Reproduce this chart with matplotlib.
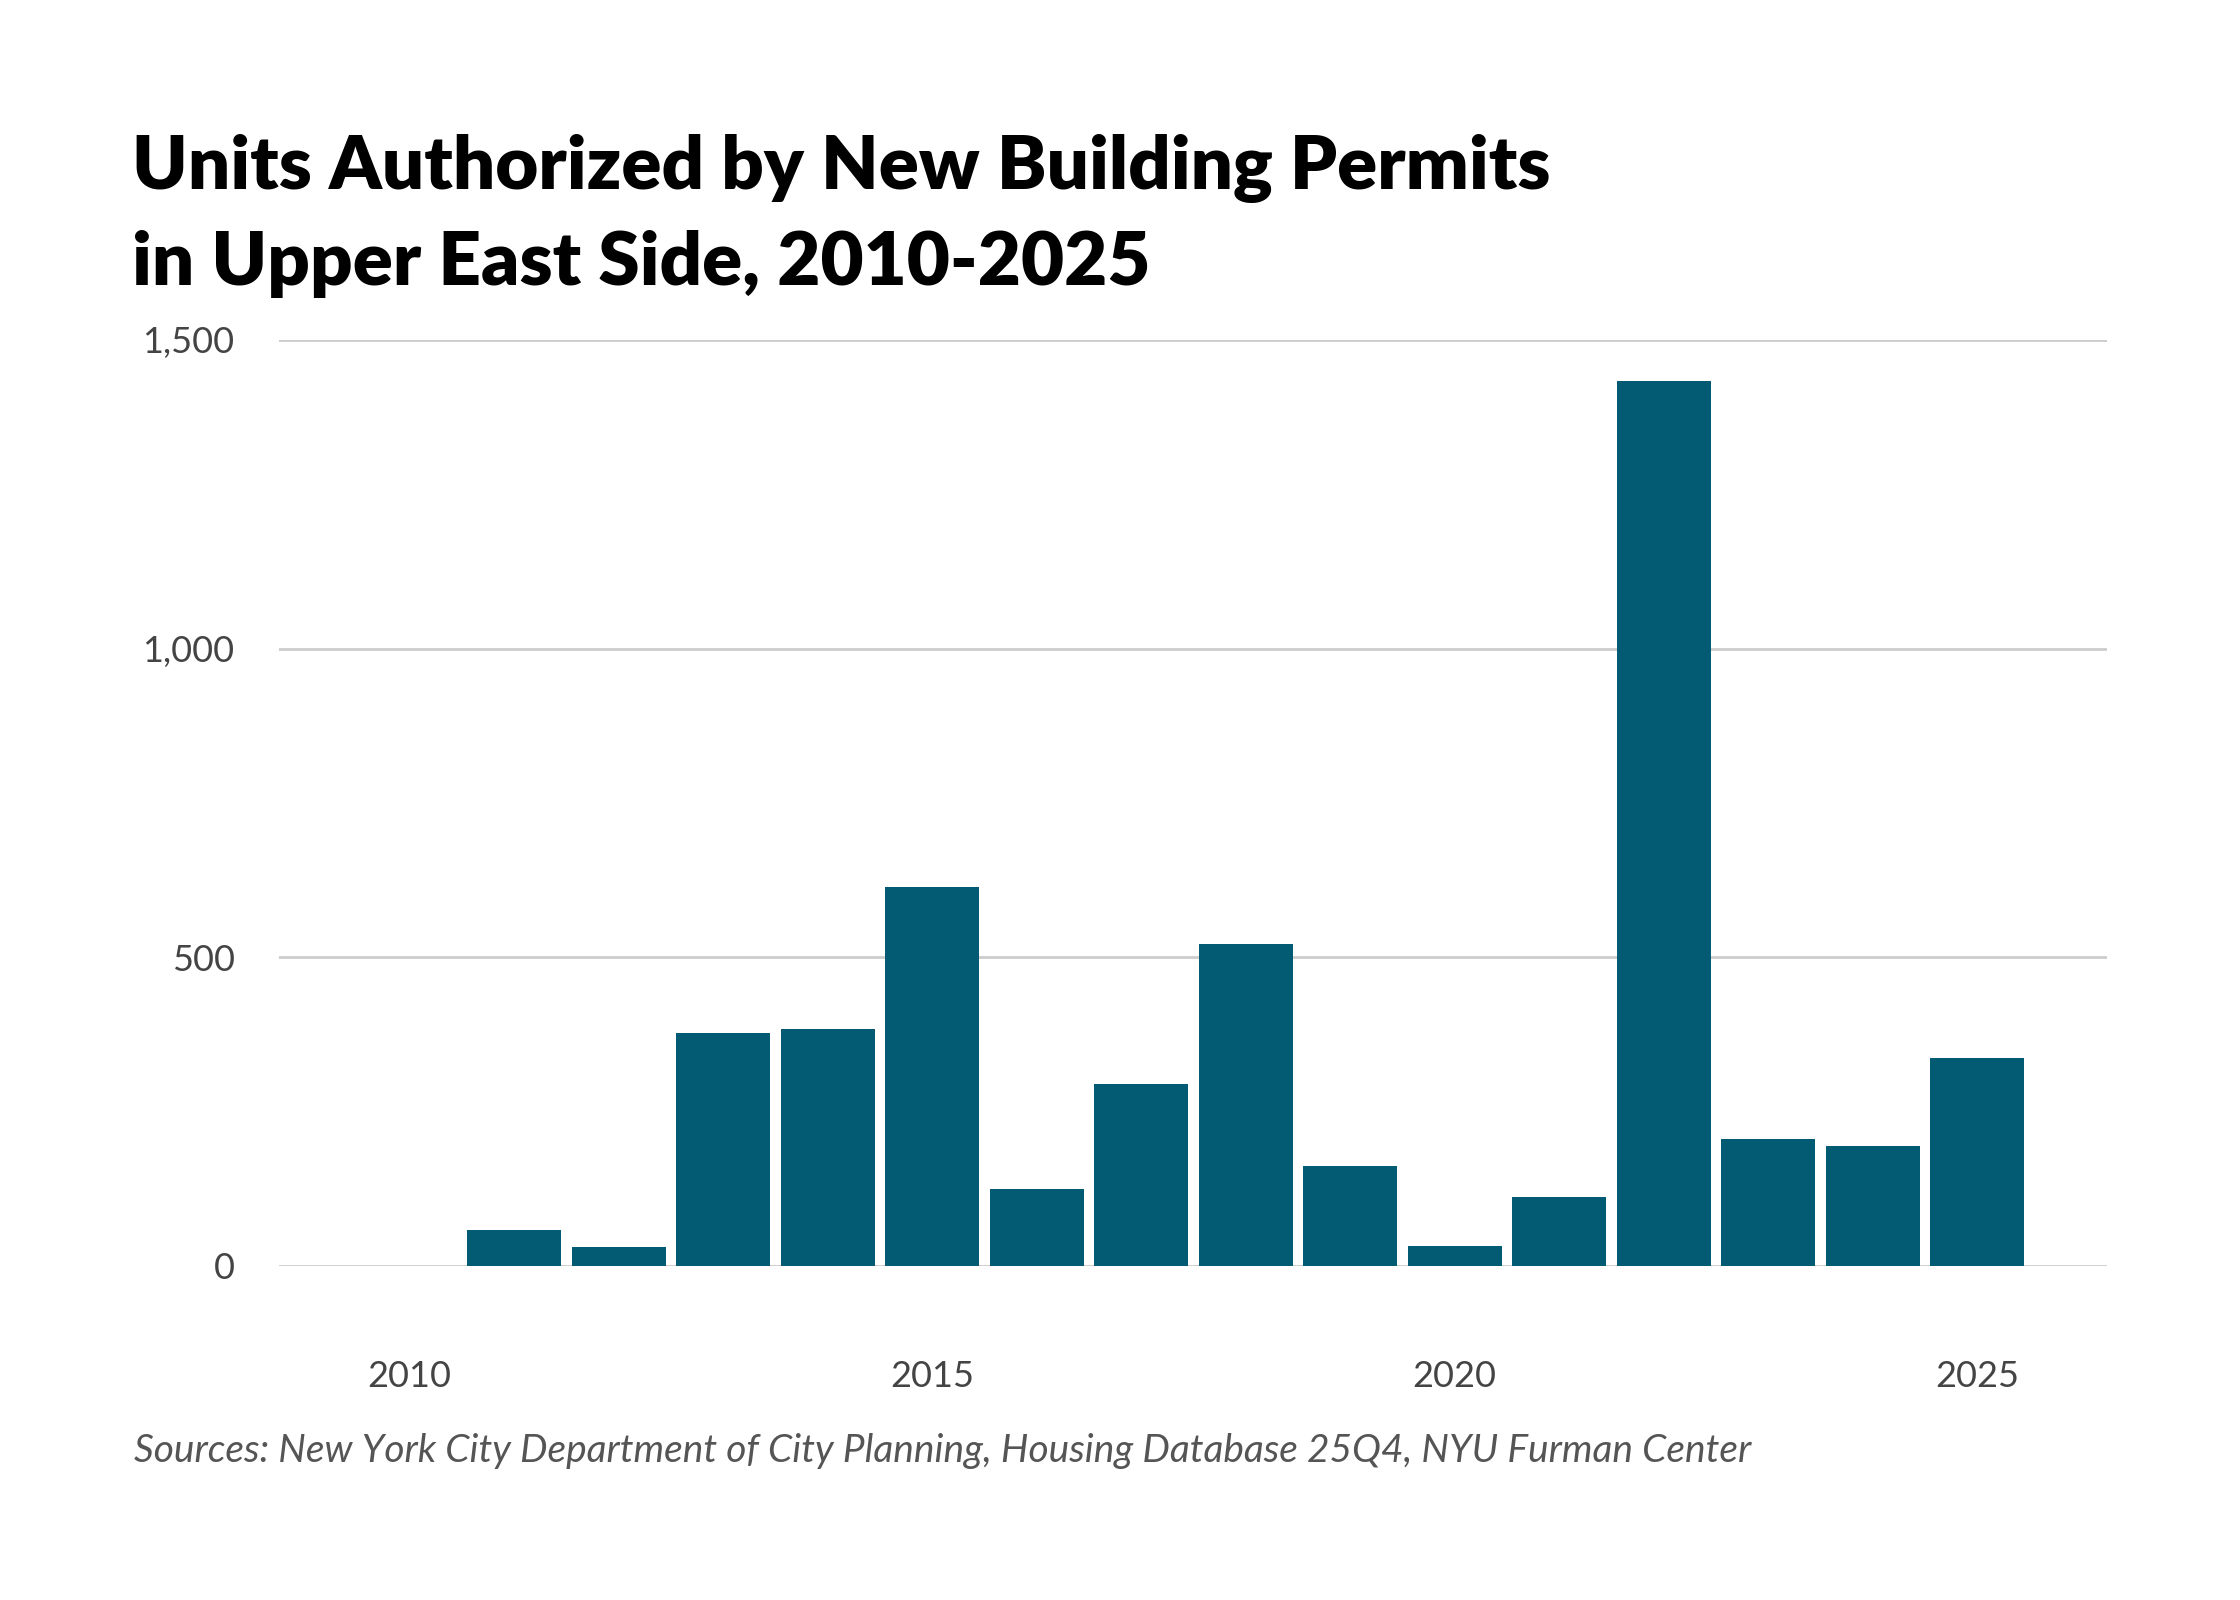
import matplotlib.pyplot as plt
import numpy as np

years = list(range(2010, 2026))
units = [0, 58, 30, 377, 384, 613, 125, 294, 521, 162, 32, 111, 1433, 206, 194, 336]
yticks = [0, 500, 1000, 1500]
ytick_labels = ["0", "500", "1,000", "1,500"]
xticks = [2010, 2015, 2020, 2025]

title_lines = ["Units Authorized by New Building Permits",
               "in Upper East Side, 2010-2025"]
source = "Sources: New York City Department of City Planning, Housing Database 25Q4, NYU Furman Center"

plt.rcParams['font.family'] = ['Lato', 'DejaVu Sans']

fig = plt.figure(figsize=(11.2, 8), dpi=200)
ax = fig.add_axes([0.1246, 0.2089, 0.8159, 0.5786])

ax.bar(years, units, width=0.9, color='#025a73', zorder=2)

ax.set_ylim(0, 1500)
ax.set_xlim(2008.75, 2026.24)
ax.set_yticks(yticks)
ax.set_yticklabels(ytick_labels)
ax.set_xticks(xticks)
ax.set_xticklabels([str(x) for x in xticks])
ax.grid(axis='y', color='#cccccc', linewidth=1.0, zorder=0)
ax.tick_params(axis='both', length=0, labelsize=13, labelcolor='#444444')
ax.tick_params(axis='x', pad=34)
ax.tick_params(axis='y', pad=16)
for s in ax.spines.values():
    s.set_visible(False)
ax.set_axisbelow(True)

fig.text(0.059, 0.8819, title_lines[0], fontsize=26.8, fontweight='heavy',
         color='black', va='baseline', ha='left')
fig.text(0.059, 0.8219, title_lines[1], fontsize=26.8, fontweight='heavy',
         color='black', va='baseline', ha='left')
fig.text(0.0598, 0.0863, source, fontsize=14, style='italic', color='#555555',
         va='baseline', ha='left')

fig.savefig('out.png', dpi=200, facecolor='white')
